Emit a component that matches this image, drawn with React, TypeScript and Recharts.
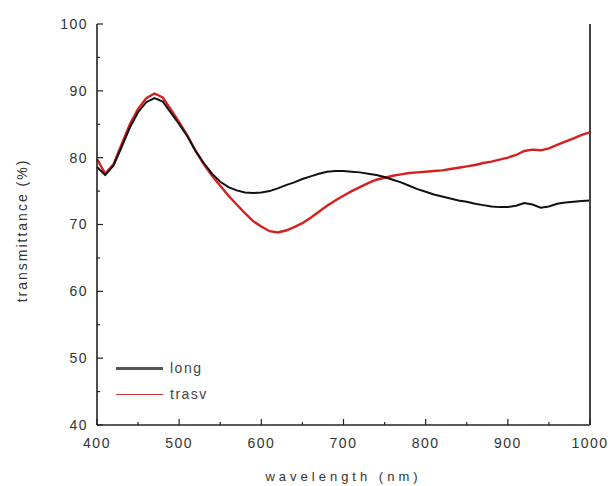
import React from 'react';
import { LineChart, Line, XAxis, YAxis, Legend } from 'recharts';

const wavelengths = [400,410,420,430,440,450,460,470,480,490,500,510,520,530,540,550,560,570,580,590,600,610,620,630,640,650,660,670,680,690,700,710,720,730,740,750,760,770,780,790,800,810,820,830,840,850,860,870,880,890,900,910,920,930,940,950,960,970,980,990,1000];

const longValues = [78.6,77.4,78.8,81.6,84.5,86.8,88.3,88.9,88.4,86.7,85.0,83.2,81.0,79.2,77.6,76.4,75.6,75.1,74.8,74.7,74.8,75.0,75.4,75.9,76.3,76.8,77.2,77.6,77.9,78.0,78.0,77.9,77.8,77.6,77.4,77.1,76.7,76.3,75.8,75.3,74.9,74.5,74.2,73.9,73.6,73.4,73.1,72.9,72.7,72.6,72.6,72.8,73.2,73.0,72.5,72.7,73.1,73.3,73.4,73.5,73.6];

const trasvValues = [79.8,77.6,79.0,82.0,85.0,87.3,88.9,89.6,89.0,87.2,85.3,83.3,81.0,79.0,77.3,75.8,74.3,73.0,71.7,70.5,69.7,69.0,68.8,69.1,69.6,70.2,71.0,71.9,72.8,73.6,74.3,75.0,75.6,76.2,76.7,77.0,77.3,77.5,77.7,77.8,77.9,78.0,78.1,78.3,78.5,78.7,78.9,79.2,79.4,79.7,80.0,80.4,81.0,81.2,81.1,81.4,81.9,82.4,82.9,83.4,83.8];

const xTicks = [400,450,500,550,600,650,700,750,800,850,900,950,1000];
const yTicks = [40,45,50,55,60,65,70,75,80,85,90,95,100];

const seriesNames = { long: 'long', trasv: 'trasv' };
const legendOrder = ['long', 'trasv'];

const data = wavelengths.map((wl, i) => ({ wl, long: longValues[i], trasv: trasvValues[i] }));

const FONT = '"Liberation Sans", Arial, sans-serif';
const TICK_COLOR = '#333';
const AXIS_COLOR = '#222';

const BottomTick = (props: any) => {
  const { x, y, payload } = props;
  const major = payload.value % 100 === 0;
  return (
    <g>
      <line x1={x} x2={x} y1={y} y2={y - (major ? 6 : 3)} stroke={AXIS_COLOR} strokeWidth={1.2} />
      {major && (
        <text x={x} y={y + 12} dy="0.75em" textAnchor="middle" fontSize={14} letterSpacing={1.5} fill={TICK_COLOR} fontFamily={FONT}>
          {payload.value}
        </text>
      )}
    </g>
  );
};

const TopTick = (props: any) => {
  const { x, y, payload } = props;
  const major = payload.value % 100 === 0;
  return <line x1={x} x2={x} y1={y} y2={y + (major ? 6 : 3)} stroke={AXIS_COLOR} strokeWidth={1.2} />;
};

const LeftTick = (props: any) => {
  const { x, y, payload } = props;
  const major = payload.value % 10 === 0;
  return (
    <g>
      <line x1={x} x2={x + (major ? 6 : 3)} y1={y} y2={y} stroke={AXIS_COLOR} strokeWidth={1.2} />
      {major && (
        <text x={x - 9} y={y} dy="0.35em" textAnchor="end" fontSize={14} letterSpacing={1.5} fill={TICK_COLOR} fontFamily={FONT}>
          {payload.value}
        </text>
      )}
    </g>
  );
};

const RightTick = (props: any) => {
  const { x, y, payload } = props;
  const major = payload.value % 10 === 0;
  return <line x1={x} x2={x - (major ? 6 : 3)} y1={y} y2={y} stroke={AXIS_COLOR} strokeWidth={1.2} />;
};

const LegendContent = (props: any) => {
  const items = [...(props.payload || [])].sort(
    (a: any, b: any) => legendOrder.indexOf(a.dataKey) - legendOrder.indexOf(b.dataKey)
  );
  return (
    <div style={{ fontFamily: FONT }}>
      {items.map((item: any, i: number) => (
        <div key={i} style={{ display: 'flex', alignItems: 'center', height: 26 }}>
          <div style={{ width: 47, height: 0, borderTop: `${item.dataKey === 'long' ? 3 : 1.5}px solid ${item.dataKey === 'long' ? '#555' : '#c83232'}` }} />
          <span style={{ marginLeft: 7, fontSize: 14, letterSpacing: 1.5, color: '#444', lineHeight: '16px' }}>{item.value}</span>
        </div>
      ))}
    </div>
  );
};

const YLabel = (props: any) => {
  const { viewBox } = props;
  const cx = 22;
  const cy = viewBox.y + viewBox.height / 2 + 6;
  return (
    <text x={cx} y={cy} transform={`rotate(-90, ${cx}, ${cy})`} textAnchor="middle" dy="0.35em" fontSize={14} letterSpacing={2} fill="#333" fontFamily={FONT}>
      transmittance (%)
    </text>
  );
};

const XLabel = (props: any) => {
  const { viewBox } = props;
  const cx = viewBox.x + viewBox.width / 2;
  return (
    <text x={cx} y={476} textAnchor="middle" dy="0.35em" fontSize={13} letterSpacing={4} fill="#333" fontFamily={FONT}>
      wavelength (nm)
    </text>
  );
};

export default function App() {
  return (
    <div style={{ position: 'absolute', left: 0, top: 0, background: '#fff' }}>
      <LineChart width={611} height={486} data={data} margin={{ top: 24, right: 0, bottom: 0, left: 0 }}>
        <XAxis
          dataKey="wl"
          type="number"
          domain={[400, 1000]}
          ticks={xTicks}
          interval={0}
          height={61}
          tickSize={0}
          tickMargin={0}
          tickLine={false}
          tick={<BottomTick />}
          axisLine={{ stroke: AXIS_COLOR, strokeWidth: 1.6 }}
          label={<XLabel />}
        />
        <XAxis
          xAxisId="top"
          orientation="top"
          dataKey="wl"
          type="number"
          domain={[400, 1000]}
          ticks={xTicks}
          interval={0}
          height={0}
          tickSize={0}
          tickMargin={0}
          tickLine={false}
          tick={<TopTick />}
          axisLine={{ stroke: AXIS_COLOR, strokeWidth: 1.6 }}
        />
        <YAxis
          type="number"
          domain={[40, 100]}
          ticks={yTicks}
          interval={0}
          width={97}
          tickSize={0}
          tickMargin={0}
          tickLine={false}
          tick={<LeftTick />}
          axisLine={{ stroke: AXIS_COLOR, strokeWidth: 1.6 }}
          label={<YLabel />}
        />
        <YAxis
          yAxisId="right"
          orientation="right"
          type="number"
          domain={[40, 100]}
          ticks={yTicks}
          interval={0}
          width={21}
          tickSize={0}
          tickMargin={0}
          tickLine={false}
          tick={<RightTick />}
          axisLine={{ stroke: '#444', strokeWidth: 2 }}
        />
        <Legend
          content={<LegendContent />}
          layout="vertical"
          align="center"
          verticalAlign="middle"
          wrapperStyle={{ position: 'absolute', left: 116, top: 355, width: 120, height: 52 }}
        />
        <Line type="linear" dataKey="trasv" name={seriesNames.trasv} stroke="#d42020" strokeWidth={2.4} dot={false} isAnimationActive={false} />
        <Line type="linear" dataKey="long" name={seriesNames.long} stroke="#111" strokeWidth={2} dot={false} isAnimationActive={false} />
      </LineChart>
    </div>
  );
}
